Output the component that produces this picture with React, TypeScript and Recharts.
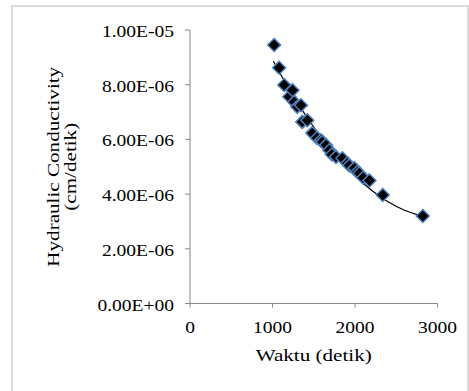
import { ComposedChart, Scatter, Line, XAxis, YAxis, Label } from "recharts";

// measured points: waktu (detik) vs hydraulic conductivity (cm/detik)
const waktu = [
  1020, 1081, 1142, 1203, 1243, 1264, 1300, 1345, 1361, 1422, 1482, 1540, 1588, 1604,
  1649, 1689, 1720, 1770, 1847, 1908, 1930, 1993, 2029, 2053, 2100, 2175, 2337, 2822,
];
const konduktivitas = [
  9.45e-6, 8.62e-6, 7.99e-6, 7.56e-6, 7.8e-6, 7.37e-6, 7.19e-6, 7.25e-6, 6.64e-6, 6.7e-6,
  6.23e-6, 6.05e-6, 5.97e-6, 5.91e-6, 5.79e-6, 5.6e-6, 5.45e-6, 5.36e-6, 5.31e-6, 5.13e-6,
  5.05e-6, 4.95e-6, 4.81e-6, 4.76e-6, 4.6e-6, 4.5e-6, 3.97e-6, 3.2e-6,
];

// trendline
const trendWaktu = [1010, 1200, 1400, 1600, 1800, 2000, 2200, 2400, 2600, 2822];
const trendK = [8.86e-6, 7.85e-6, 6.89e-6, 6.04e-6, 5.3e-6, 4.67e-6, 4.14e-6, 3.72e-6, 3.41e-6, 3.19e-6];

const xTicks = [0, 1000, 2000, 3000];
const yTicks = [0, 2e-6, 4e-6, 6e-6, 8e-6, 1e-5];
const yTickLabels = ["0.00E+00", "2.00E-06", "4.00E-06", "6.00E-06", "8.00E-06", "1.00E-05"];

const points = waktu.map((x, i) => ({ x, y: konduktivitas[i] }));
const trend = trendWaktu.map((x, i) => ({ x, y: trendK[i] }));

const FONT = "'Liberation Serif', 'Times New Roman', serif";
const TICK_SX = 1.22;
const TITLE_SX = 1.32;
const AXIS = "#888888";

function Diamond({ cx, cy }: any) {
  const r = 6.5;
  return (
    <polygon
      points={`${cx},${cy - r} ${cx + r},${cy} ${cx},${cy + r} ${cx - r},${cy}`}
      fill="#000"
      stroke="#4f81bd"
      strokeWidth={1.5}
    />
  );
}

function YTick({ x, y, payload }: any) {
  const label = yTickLabels[yTicks.indexOf(payload.value)];
  return (
    <g transform={`translate(${x},${y})`}>
      <text transform={`scale(${TICK_SX},1)`} textAnchor="end" dy={7} fontFamily={FONT} fontSize={16} fill="#000">
        {label}
      </text>
    </g>
  );
}

function XTick({ x, y, payload }: any) {
  return (
    <g transform={`translate(${x},${y})`}>
      <text transform={`scale(${TICK_SX},1)`} textAnchor="middle" dy={11.4} fontFamily={FONT} fontSize={16} fill="#000">
        {payload.value}
      </text>
    </g>
  );
}

function XTitle({ viewBox }: any) {
  const cx = viewBox.x + viewBox.width / 2;
  return (
    <text
      transform={`translate(${cx},361) scale(${TITLE_SX},1)`}
      textAnchor="middle"
      fontFamily={FONT}
      fontSize={16}
      fill="#000"
    >
      Waktu (detik)
    </text>
  );
}

function YTitle({ viewBox }: any) {
  const cy = viewBox.y + viewBox.height / 2;
  return (
    <g fontFamily={FONT} fontSize={16} fill="#000">
      <text transform={`translate(59,${cy}) rotate(-90) scale(${TITLE_SX},1)`} textAnchor="middle">
        Hydraulic Conductivity
      </text>
      <text transform={`translate(76,${cy}) rotate(-90) scale(${TITLE_SX},1)`} textAnchor="middle">
        (cm/detik)
      </text>
    </g>
  );
}

export default function App() {
  return (
    <div style={{ position: "absolute", left: 0, top: 0, width: 469, height: 391, overflow: "hidden", background: "#fff" }}>
      <div
        style={{
          position: "absolute",
          left: 11,
          top: 5,
          width: 454,
          height: 400,
          border: "2px solid #dcdcdc",
        }}
      />
      <div style={{ position: "absolute", left: 0, top: 0 }}>
        <ComposedChart width={469} height={391} margin={{ top: 30, right: 31.5, bottom: 47.5, left: 0 }}>
          <XAxis
            type="number"
            dataKey="x"
            domain={[0, 3000]}
            ticks={xTicks}
            height={40}
            tickSize={4}
            tickMargin={14.5}
            tick={<XTick />}
            stroke={AXIS}
            tickLine={{ stroke: AXIS }}
          >
            <Label content={<XTitle />} />
          </XAxis>
          <YAxis
            type="number"
            dataKey="y"
            domain={[0, 1e-5]}
            ticks={yTicks}
            width={190}
            tickSize={5}
            tickMargin={11}
            tick={<YTick />}
            stroke={AXIS}
            tickLine={{ stroke: AXIS }}
          >
            <Label content={<YTitle />} />
          </YAxis>
          <Scatter data={points} shape={<Diamond />} isAnimationActive={false} />
          <Line
            data={trend}
            dataKey="y"
            type="monotone"
            stroke="#000"
            strokeWidth={1.2}
            dot={false}
            activeDot={false}
            isAnimationActive={false}
          />
        </ComposedChart>
      </div>
    </div>
  );
}
